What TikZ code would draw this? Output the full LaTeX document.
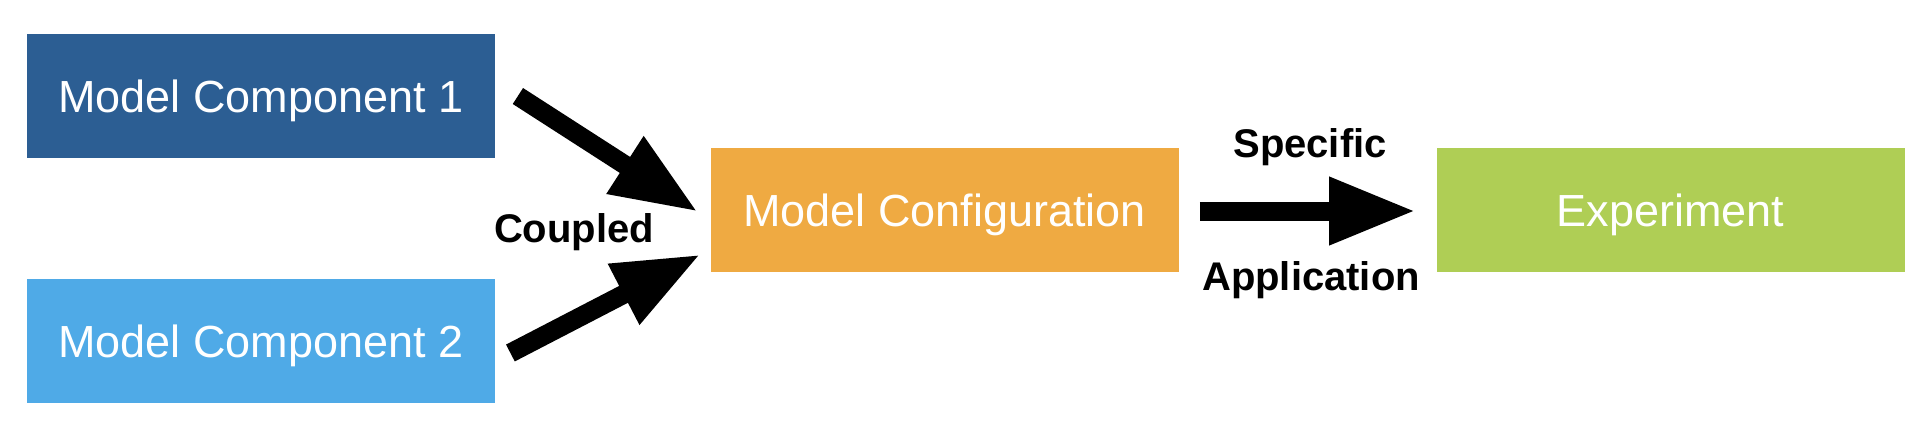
\documentclass[tikz,border=0pt]{standalone}
\usepackage{fontspec}
\setmainfont{Liberation Sans}
\usetikzlibrary{arrows.meta,calc}
\definecolor{mcone}{RGB}{44,94,147}
\definecolor{mctwo}{RGB}{79,170,231}
\definecolor{cfgcol}{RGB}{239,170,66}
\definecolor{expcol}{RGB}{175,206,85}
\begin{document}
\begin{tikzpicture}[x=0.5pt,y=-0.5pt,
  box/.style={rectangle, inner sep=0pt, minimum width=234pt, minimum height=62pt,
    text=white, font=\fontsize{22.5}{26}\selectfont, text height=16.1pt, text depth=0pt},
  fat/.style={line width=9.5pt, -{Triangle[length=43.5pt,width=31.5pt]}},
  lbl/.style={font=\fontsize{20}{24}\selectfont\bfseries, anchor=base, inner sep=0pt}]
\useasboundingbox (0,0) rectangle (1930,436);
\node[box, fill=mcone] (mc1) at (261,96) {Model Component 1};
\node[box, fill=mctwo] (mc2) at (261,341) {Model Component 2};
\node[box, fill=cfgcol] (cfg) at (944.5,210) {Model Configuration};
\node[box, fill=expcol] (exp) at (1670.5,210) {Experiment};
\draw[fat] ($(mc1.east)+(22.5,0)$) -- ($(cfg.west)+(-12,2)$);
\draw[fat] ($(mc2.east)+(15,12)$) -- ($(cfg.west)+(-9.3,44.3)$);
\draw[fat] ($(cfg.east)+(21,1)$) -- ($(exp.west)+(-20,1)$);
\node[lbl] (coupled) at (574,242) {Coupled};
\node[lbl] (specific) at (1310,157) {Specific};
\node[lbl] (application) at (1311,290) {Application};
\end{tikzpicture}
\end{document}
